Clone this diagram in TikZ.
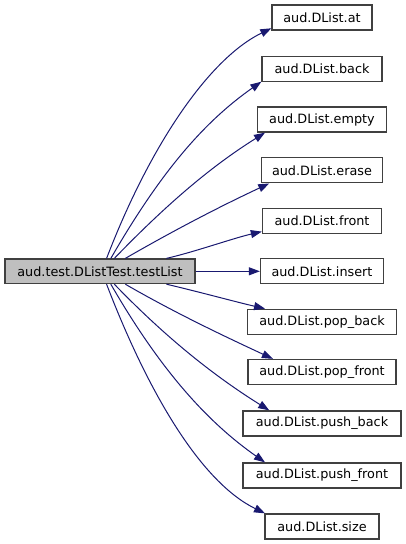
\documentclass[tikz,border=0pt]{standalone}
\usepackage{fontspec}
\setmainfont{DejaVu Sans}
\usetikzlibrary{arrows.meta}
\definecolor{edgecol}{HTML}{191970}
\definecolor{boxline}{HTML}{404040}
\definecolor{mainfill}{HTML}{BFBFBF}
\tikzset{
  fn/.style={draw=boxline, line width=1.3pt, fill=white, minimum height=25pt, inner sep=0pt, font=\fontsize{12.8}{15}\selectfont},
  mainfn/.style={fn, fill=mainfill, minimum height=24.5pt},
  call/.style={draw=edgecol, line width=1pt, -{Triangle[length=11pt,width=8pt]}, fill=none},
}
\begin{document}
\begin{tikzpicture}[x=1pt,y=1pt]
\useasboundingbox (0,0) rectangle (405,-544);
\node[mainfn, minimum width=190pt] (main) at (100,-271.3) {aud.test.DListTest.testList};
\node[fn, minimum width=100pt] (at) at (322,-17.5) {aud.DList.at};
\node[fn, minimum width=120pt] (back) at (322,-68.8) {aud.DList.back};
\node[fn, minimum width=129pt] (empty) at (322,-119.5) {aud.DList.empty};
\node[fn, minimum width=121pt] (erase) at (322,-170.3) {aud.DList.erase};
\node[fn, minimum width=119pt] (front) at (322,-221) {aud.DList.front};
\node[fn, minimum width=123pt] (insert) at (322,-271.3) {aud.DList.insert};
\node[fn, minimum width=149pt] (popback) at (322,-321.8) {aud.DList.pop\_back};
\node[fn, minimum width=148pt] (popfront) at (322,-372) {aud.DList.pop\_front};
\node[fn, minimum width=158pt] (pushback) at (322,-423.5) {aud.DList.push\_back};
\node[fn, minimum width=158pt] (pushfront) at (322,-475.5) {aud.DList.push\_front};
\node[fn, minimum width=114pt] (size) at (322,-526.5) {aud.DList.size};
% top edges
\draw[call] (main.63.4) to[out=69,in=206,out distance=120pt,in distance=70pt] (at.192);
\draw[call] (main.50.2) to[out=60,in=215,out distance=100pt,in distance=70pt] (back.192);
\draw[call] (main.42.7) to[out=46,in=212,out distance=80pt,in distance=60pt] (empty.193);
\draw[call] (main.27.6) to[out=30,in=205,out distance=60pt,in distance=50pt] (erase.194);
\draw[call] (main.11.9) to[out=13,in=193,out distance=30pt,in distance=30pt] (front.190);
\draw[call] (main.east) -- (insert.west);
% bottom edges
\draw[call] (main.-11.9) to[out=-13,in=167,out distance=30pt,in distance=30pt] (popback.167.6);
\draw[call] (main.-27.6) to[out=-30,in=155,out distance=60pt,in distance=50pt] (popfront.165.7);
\draw[call] (main.-42.7) to[out=-46,in=148,out distance=80pt,in distance=60pt] (pushback.166);
\draw[call] (main.-50.2) to[out=-60,in=145,out distance=100pt,in distance=70pt] (pushfront.167.6);
\draw[call] (main.-63.4) to[out=-69,in=154,out distance=120pt,in distance=70pt] (size.167.6);
\end{tikzpicture}
\end{document}
